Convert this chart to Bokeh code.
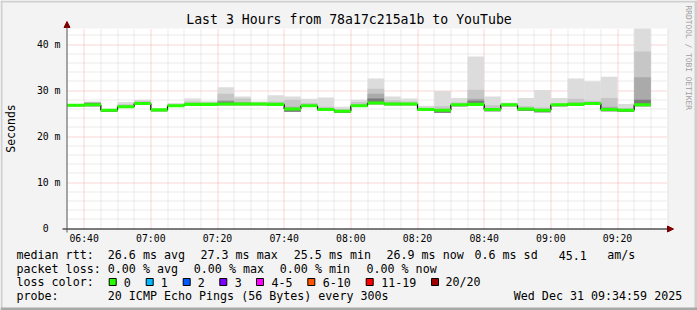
import datetime as dt
import math
from bokeh.plotting import figure
from bokeh.models import (FixedTicker, DatetimeTickFormatter, Range1d, Label,
                          BoxAnnotation, Arrow, NormalHead, ColumnDataSource)
from bokeh.embed import file_html
from bokeh.resources import INLINE

EPOCH = dt.datetime(1970, 1, 1)


def ms(t):
    return (t - EPOCH).total_seconds() * 1000.0


# ---------------- data ----------------
t_start = dt.datetime(2025, 12, 31, 6, 35)
t_end = dt.datetime(2025, 12, 31, 9, 35)
step_min = 5

median = [26.8, 26.9, 25.7, 26.5, 27.2, 25.8, 26.7, 27.0, 27.0, 27.1, 27.1, 27.1,
          27.0, 26.0, 26.7, 25.9, 25.5, 26.7, 27.3, 27.1, 27.1, 25.9, 25.7, 26.9,
          27.0, 25.9, 26.9, 26.0, 25.7, 26.9, 27.0, 27.2, 25.9, 25.7, 26.9]
rtt_min = [26.6, 26.6, 25.4, 26.2, 26.9, 25.5, 26.4, 26.7, 26.7, 26.8, 26.8, 26.8,
           26.7, 25.4, 26.4, 25.6, 25.2, 26.4, 27.0, 26.8, 26.8, 25.6, 25.2, 26.6,
           26.7, 25.5, 26.6, 25.6, 25.3, 26.6, 26.7, 26.9, 25.5, 25.4, 26.6]
rtt_max = [27.1, 27.6, 26.0, 27.5, 28.0, 26.1, 27.3, 28.3, 27.7, 30.7, 28.7, 27.6,
           29.0, 28.7, 28.2, 28.5, 26.5, 28.0, 32.6, 28.7, 28.3, 26.7, 29.9, 28.4,
           37.4, 28.7, 27.4, 28.4, 30.1, 28.4, 32.6, 32.0, 33.0, 27.1, 43.5]
rtt_p90 = [27.0, 27.5, 25.9, 27.0, 27.8, 26.0, 27.0, 27.6, 27.4, 29.3, 28.3, 27.4,
           27.6, 28.0, 27.3, 26.5, 26.0, 27.5, 30.4, 27.9, 27.6, 26.3, 26.6, 27.4,
           30.2, 26.8, 27.2, 26.6, 26.3, 27.2, 28.2, 27.8, 28.4, 26.2, 38.5]
rtt_p75 = [26.9, 27.4, 25.8, 26.7, 27.4, 25.9, 26.8, 27.2, 27.2, 27.9, 27.5, 27.2,
           27.2, 26.5, 26.9, 26.1, 25.7, 26.9, 29.3, 27.4, 27.3, 26.0, 26.0, 27.1,
           28.2, 26.1, 27.0, 26.2, 25.9, 27.0, 27.4, 27.4, 26.5, 25.9, 32.9]
rtt_p60 = [26.8, 27.3, 25.7, 26.6, 27.3, 25.8, 26.7, 27.1, 27.1, 27.6, 27.3, 27.1,
           27.1, 26.2, 26.8, 26.0, 25.6, 26.8, 28.3, 27.3, 27.2, 25.9, 25.8, 27.0,
           27.8, 26.0, 26.9, 26.1, 25.8, 26.9, 27.2, 27.3, 26.2, 25.8, 28.0]

y_ticks = [0, 10, 20, 30, 40]
y_tick_labels = ["0\u2007\u2007", "10 m", "20 m", "30 m", "40 m"]

title_text = "Last 3 Hours from 78a17c215a1b to YouTube"
rtt_stats = ["26.6 ms avg", "27.3 ms max", "25.5 ms min", "26.9 ms now",
             "0.6 ms sd", "45.1", "am/s"]
loss_stats = ["0.00 % avg", "0.00 % max", "0.00 % min", "0.00 % now"]
loss_names = ["0", "1", "2", "3", "4-5", "6-10", "11-19", "20/20"]
loss_colors = ["#26ff00", "#00b8ff", "#0059ff", "#7e00ff", "#ff00ff",
               "#ff5500", "#ff0000", "#a00000"]
probe_text = "20 ICMP Echo Pings (56 Bytes) every 300s"
date_text = "Wed Dec 31 09:34:59 2025"

# ---------------- geometry ----------------
W, H = 697, 310
FL, FR, FT, FB = 67, 667, 28, 228   # chart area in canvas pixels
Y_MAX = 43.5
T0, T1 = ms(t_start), ms(t_end)
px_t = (T1 - T0) / (FR - FL)   # ms per pixel
px_y = Y_MAX / (FB - FT)       # value per pixel


def cx(X):
    return T0 + (X - FL) * px_t


def cy(Y):
    return (FB - Y) * px_y


def snap_x(v):
    # put a 1px line on a pixel centre (crisp dotted grid)
    return cx(math.floor(FL + (v - T0) / px_t) + 0.5)


def snap_y(v):
    return cy(math.floor(FB - v / px_y) + 0.5)


MONO = "DejaVu Sans Mono"

# The plotting frame covers the whole canvas; the chart area is a region of it
p = figure(width=W, height=H, output_backend="svg", toolbar_location=None,
           title=None, x_axis_type="datetime",
           x_range=Range1d(cx(0), cx(W)), y_range=Range1d(cy(H), cy(0)))
p.min_border = 0
p.min_border_left = 0
p.min_border_right = 0
p.min_border_top = 0
p.min_border_bottom = 0
p.border_fill_color = "#f3f3f3"
p.background_fill_color = "#f3f3f3"
p.outline_line_color = None
p.xgrid.visible = False
p.ygrid.visible = False

# axes drawn at the chart's edges
x_major = [ms(t_start + dt.timedelta(minutes=5 + 20 * k)) for k in range(9)]
x_minor = [ms(t_start + dt.timedelta(minutes=5 * k)) for k in range(1, 37)]
x_minor = [v for v in x_minor if v not in x_major]
y_minor = [v for v in range(2, 44, 2) if v % 10 != 0]

p.xaxis.ticker = FixedTicker(ticks=x_major)
p.yaxis.ticker = FixedTicker(ticks=y_ticks)
p.xaxis.formatter = DatetimeTickFormatter(minutes="%H:%M", hourmin="%H:%M",
                                          hours="%H:%M", days="%H:%M")
p.yaxis.major_label_overrides = {t: s for t, s in zip(y_ticks, y_tick_labels)}
p.xaxis.fixed_location = 0
p.yaxis.fixed_location = T0
for ax in (p.xaxis[0], p.yaxis[0]):
    ax.axis_line_color = None
    ax.major_tick_line_color = None
    ax.minor_tick_line_color = None
    ax.major_tick_out = 0
    ax.major_tick_in = 0
    ax.minor_tick_out = 0
    ax.minor_tick_in = 0
    ax.major_label_text_font = MONO
    ax.major_label_text_font_size = "9.8px"
    ax.major_label_text_color = "#000000"
p.xaxis.major_label_standoff = 4
p.yaxis.major_label_standoff = 7

# white canvas of the chart area
p.quad(left=[T0], right=[T1], bottom=[0], top=[Y_MAX],
       fill_color="#ffffff", line_color=None)

# grid (minor grey dotted, major red dotted)
gx_min = [snap_x(v) for v in x_minor]
gy_min = [snap_y(v) for v in y_minor]
gx_maj = [snap_x(v) for v in x_major]
gy_maj = [snap_y(v) for v in y_ticks[1:]]
p.segment(x0=gx_min, x1=gx_min, y0=[0] * len(gx_min), y1=[Y_MAX] * len(gx_min),
          line_color="#d6d6d6", line_width=1, line_dash="1 1")
p.segment(x0=[T0] * len(gy_min), x1=[T1] * len(gy_min), y0=gy_min, y1=gy_min,
          line_color="#d6d6d6", line_width=1, line_dash="1 1")
p.segment(x0=gx_maj, x1=gx_maj, y0=[0] * len(gx_maj), y1=[Y_MAX] * len(gx_maj),
          line_color="#f5aaaa", line_width=1, line_dash="1 1")
p.segment(x0=[T0] * len(gy_maj), x1=[T1] * len(gy_maj), y0=gy_maj, y1=gy_maj,
          line_color="#f5aaaa", line_width=1, line_dash="1 1")

# ---------------- smoke + median ----------------
n = len(median)
left = [ms(t_start + dt.timedelta(minutes=step_min * i)) for i in range(n)]
right = [ms(t_start + dt.timedelta(minutes=step_min * (i + 1))) for i in range(n)]
band = 0.33
src = ColumnDataSource(dict(
    left=left, right=right, lo=rtt_min, hi=rtt_max, p90=rtt_p90, p75=rtt_p75,
    p60=rtt_p60,
    med_lo=[m - band for m in median], med_hi=[m + band for m in median]))

p.quad(left="left", right="right", bottom="lo", top="hi", source=src,
       fill_color="#dcdcdc", line_color=None)
p.quad(left="left", right="right", bottom="lo", top="p90", source=src,
       fill_color="#c6c6c6", line_color=None)
p.quad(left="left", right="right", bottom="lo", top="p75", source=src,
       fill_color="#aaaaaa", line_color=None)
p.quad(left="left", right="right", bottom="lo", top="p60", source=src,
       fill_color="#7a7a7a", line_color=None)

p.segment(x0=right[:-1], x1=right[:-1], y0=median[:-1], y1=median[1:],
          line_color="#000000", line_width=1.2)
p.quad(left="left", right="right", bottom="med_lo", top="med_hi", source=src,
       fill_color=loss_colors[0], line_color=None)

# ---------------- axis lines with arrows ----------------
p.add_layout(Arrow(x_start=cx(62), y_start=cy(228.5), x_end=cx(673), y_end=cy(228.5),
                   line_color="#000000", line_width=1,
                   end=NormalHead(size=6, fill_color="#800000", line_color="#800000")))
p.add_layout(Arrow(x_start=cx(66.5), y_start=cy(232), x_end=cx(66.5), y_end=cy(21),
                   line_color="#555555", line_width=1,
                   end=NormalHead(size=6, fill_color="#800000", line_color="#800000")))


# ---------------- texts ----------------
def lab(x, y, text, size="11.66px", align="left", color="#000000", angle=0.0):
    p.add_layout(Label(x=cx(x), y=cy(y), text=text, text_font=MONO,
                       text_font_size=size, text_align=align,
                       text_baseline="middle", text_color=color, angle=angle))


lab(348.5, 19, title_text, size="13.2px", align="center")
lab(688, 5, "RRDTOOL / TOBI OETIKER", size="7.9px", color="#a0a0a0",
    angle=-math.pi / 2)
lab(10.5, 128, "Seconds", size="11.5px", align="center", angle=math.pi / 2)

row_y = [254.5, 268, 281.5, 295]
lab(16, row_y[0], "median rtt:")
for x, s in zip([107.3, 200, 293.3, 386, 474, 558.3, 606.7], rtt_stats):
    lab(x, row_y[0], s)
lab(16, row_y[1], "packet loss:")
for x, s in zip([107.3, 193.3, 279.3, 366], loss_stats):
    lab(x, row_y[1], s)
lab(16, row_y[2], "loss color:")
sq_x = [108.7, 145.7, 182.7, 219.3, 256, 307.3, 365.7, 431]
tx_x = [123.3, 160.3, 197.3, 234.3, 271, 322.3, 380.7, 445]
for sx, tx, name, col in zip(sq_x, tx_x, loss_names, loss_colors):
    p.add_layout(BoxAnnotation(left=cx(sx), right=cx(sx + 7),
                               top=cy(row_y[2] - 3.5), bottom=cy(row_y[2] + 3.5),
                               fill_color=col, fill_alpha=1.0,
                               line_color="#000000", line_width=1, line_alpha=1.0))
    lab(tx, row_y[2], name)
lab(16, row_y[3], "probe:")
lab(107.3, row_y[3], probe_text)
lab(513.3, row_y[3], date_text)


# ---------------- outer 3D frame ----------------
def edge(x0, x1, y0, y1, col):
    p.add_layout(BoxAnnotation(left=cx(x0), right=cx(x1), top=cy(y0), bottom=cy(y1),
                               fill_color=col, fill_alpha=1.0, line_color=None))


edge(0, W, 0, 2, "#cfcfcf")
edge(0, 2, 0, H, "#cfcfcf")
edge(W - 3, W, 0, H, "#cfcfcf")
edge(0, W, H - 3, H, "#a8a8a8")

open("out.html", "w").write(file_html(p, INLINE))
